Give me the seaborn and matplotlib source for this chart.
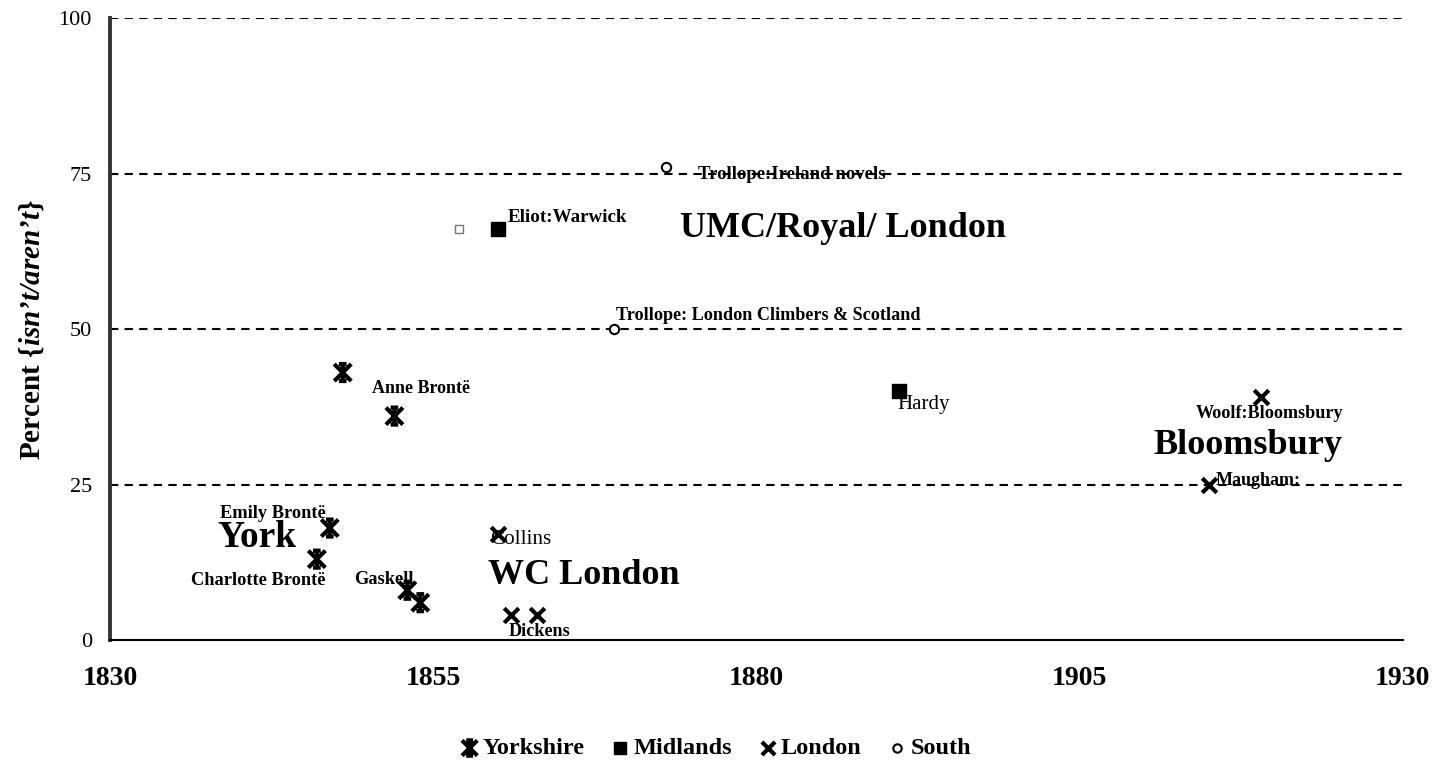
import numpy as np
import pandas as pd
import seaborn as sns
import matplotlib.pyplot as plt
from matplotlib.path import Path

# data
years = [1848, 1852, 1847, 1846, 1853, 1854,
         1860, 1891,
         1860, 1861, 1863, 1919, 1915,
         1873, 1869]
percents = [43, 36, 18, 13, 8, 6,
            66, 40,
            17, 4, 4, 39, 25,
            76, 50]
regions = ["Yorkshire"] * 6 + ["Midlands"] * 2 + ["London"] * 5 + ["South"] * 2
region_order = ["Yorkshire", "Midlands", "London", "South"]

# the lone unlabelled hollow square
stray_year = [1857]
stray_pct = [66]

# text labels: (text, x, y, size, weight)
label_text = ["Trollope:Ireland novels", "Eliot:Warwick", "UMC/Royal/ London",
              "Trollope: London Climbers & Scotland", "Anne Brontë", "Hardy",
              "Woolf:Bloomsbury", "Bloomsbury", "Maugham:", "Emily Brontë", "York",
              "Charlotte Brontë", "Gaskell", "Collins", "WC London", "Dickens"]
label_x = [1875.5, 1860.8, 1874.1, 1869.1, 1850.3, 1890.9, 1914.0, 1910.7,
           1915.5, 1838.5, 1838.3, 1836.3, 1848.9, 1859.4, 1859.2, 1860.8]
label_y = [74.8, 67.9, 66.1, 52.2, 40.4, 37.8, 36.4, 31.2,
           25.6, 20.3, 16.4, 9.6, 9.7, 16.1, 10.3, 1.3]
label_size = [13.5, 13.7, 26, 13.1, 13, 15, 13.1, 26, 13, 13.2, 27, 13.2, 13.2, 15.2, 26, 13.1]
label_weight = ["bold", "bold", "bold", "bold", "bold", "normal", "bold", "bold", "bold",
                "bold", "bold", "bold", "bold", "normal", "bold", "bold"]

df = pd.DataFrame({"Year": years, "Percent": percents, "Region": regions})

sns.set_style("white")
plt.rcParams["font.family"] = ["Liberation Serif", "DejaVu Serif"]
plt.rcParams["text.color"] = "black"
plt.rcParams["axes.labelcolor"] = "black"
plt.rcParams["xtick.color"] = "black"
plt.rcParams["ytick.color"] = "black"
plt.rcParams["mathtext.fontset"] = "custom"
plt.rcParams["mathtext.rm"] = "Liberation Serif"
plt.rcParams["mathtext.bf"] = "Liberation Serif:bold"
plt.rcParams["mathtext.it"] = "Liberation Serif:italic"
plt.rcParams["mathtext.bfit"] = "Liberation Serif:italic:bold"

# Excel-style star marker: X with a vertical stroke and short bars top and bottom
M, L = Path.MOVETO, Path.LINETO
star = Path([(-1, -1), (1, 1), (-1, 1), (1, -1), (0, -1), (0, 1),
             (-0.45, 1), (0.45, 1), (-0.45, -1), (0.45, -1)],
            [M, L, M, L, M, L, M, L, M, L])

marker_style = {
    "Yorkshire": dict(marker=star, s=150, edgecolor="black", linewidth=3),
    "Midlands": dict(marker="s", s=105, color="black", edgecolor="black", linewidth=1),
    "London": dict(marker="x", s=110, color="black", linewidth=3),
    "South": dict(marker="o", s=45, color="white", edgecolor="black", linewidth=1.5),
}

fig, ax = plt.subplots(figsize=(14.32, 7.6), dpi=100)
fig.subplots_adjust(left=0.0768, right=0.9797, top=0.9763, bottom=0.1579)

for r in region_order:
    sub = df[df["Region"] == r]
    sns.scatterplot(data=sub, x="Year", y="Percent", ax=ax, label=r, zorder=4, **marker_style[r])
    if r == "Yorkshire":
        ax.collections[-1].set_facecolor("none")

ax.scatter(stray_year, stray_pct, marker="s", s=30, facecolor="white", edgecolor="#777777",
           linewidth=1, zorder=4)

for t, x, y, s, w in zip(label_text, label_x, label_y, label_size, label_weight):
    ax.text(x, y, t, fontsize=s, fontweight=w, ha="left", va="center", zorder=5)

ax.set_xlim(1830, 1930)
ax.set_ylim(0, 100)
ax.set_xticks([1830, 1855, 1880, 1905, 1930])
ax.set_yticks([0, 25, 50, 75, 100])
for yv in [25, 50, 75, 100]:
    ax.axhline(yv, color="black", linestyle=(0, (4, 3)), linewidth=1.5, zorder=1)

for lab in ax.get_xticklabels():
    lab.set_fontweight("bold")
ax.tick_params(axis="x", labelsize=20, length=4, width=1.2, direction="out", pad=15)
ax.tick_params(axis="y", labelsize=16, length=6, width=1.5, direction="out", pad=7)

sns.despine(ax=ax)
ax.spines["left"].set_linewidth(2.8)
ax.spines["left"].set_color("#333333")
ax.spines["bottom"].set_linewidth(1.5)
ax.spines["bottom"].set_color("black")

ax.set_xlabel("")
ax.set_ylabel("Percent {$\\mathbfit{isn\u2019t/aren\u2019t}$}", fontsize=21, fontweight="bold", labelpad=9)

handles, labels = ax.get_legend_handles_labels()
ax.get_legend().remove()
fig.legend(handles, labels, loc="lower center", bbox_to_anchor=(0.5, -0.028), ncol=4, frameon=False,
           prop={"weight": "bold", "size": 17.5}, handlelength=0.7, handletextpad=0.2,
           columnspacing=1.1, markerscale=0.9)

plt.savefig("out.png", dpi=100)
